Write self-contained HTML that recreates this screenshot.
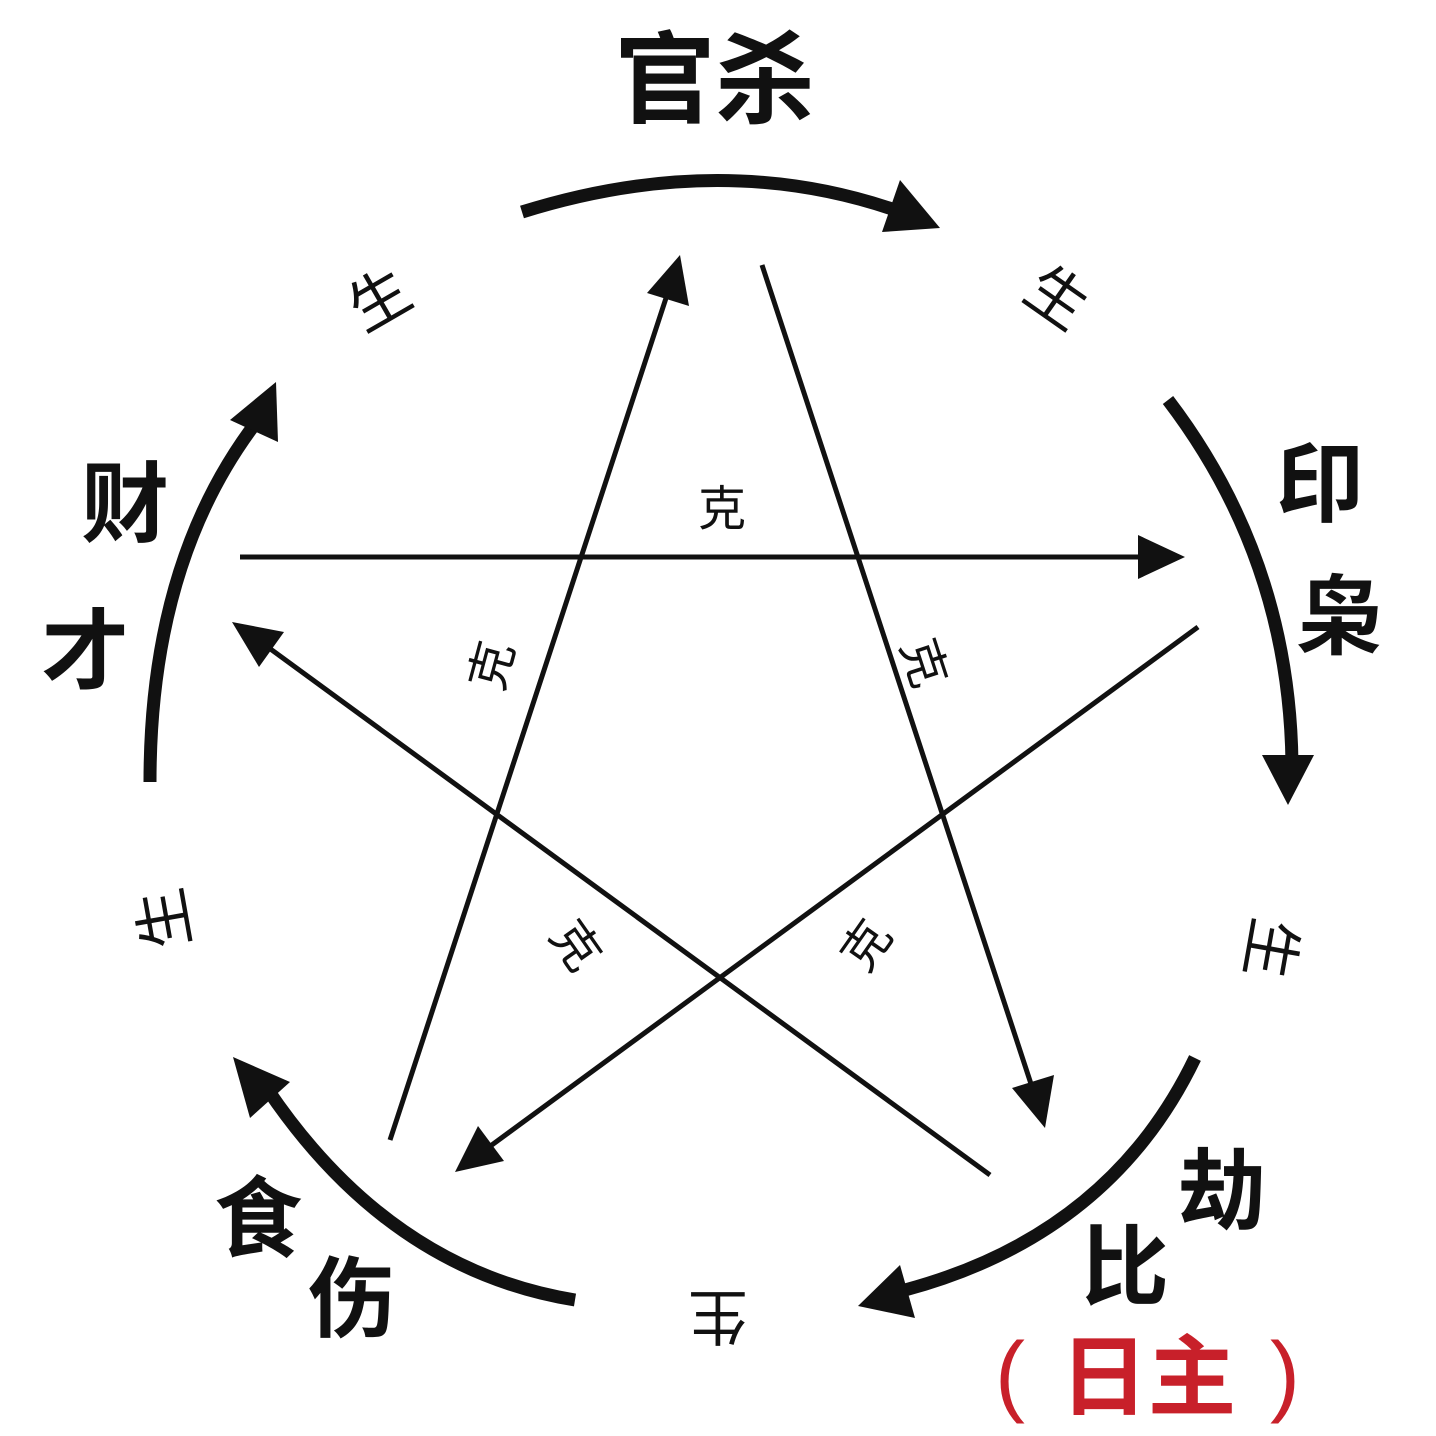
<!DOCTYPE html>
<html><head><meta charset="utf-8"><style>
html,body{margin:0;padding:0;background:#fff;}
svg{display:block;}
text{font-family:"Liberation Sans","Noto Sans CJK SC",sans-serif;}
</style></head><body>
<svg width="1436" height="1436" viewBox="0 0 1436 1436" xmlns="http://www.w3.org/2000/svg">
<g fill="none" stroke="#111" stroke-width="13" stroke-linecap="butt">
<path d="M522,212 Q720,150 895,210"/>
<path d="M1168,400 Q1290,560 1292,765"/>
<path d="M1195,1058 Q1110,1235 905,1290"/>
<path d="M575,1300 Q390,1270 268,1090"/>
<path d="M150,782 Q150,560 258,420"/>
</g>
<g fill="#111">
<polygon points="940,228 882,232 900,180"/>
<polygon points="1288,805 1262,755 1314,755"/>
<polygon points="858,1306 900,1265 915,1318"/>
<polygon points="233,1057 290,1082 250,1118"/>
<polygon points="276,382 278,442 230,420"/>
</g>
<g stroke="#111" stroke-width="5">
<line x1="240" y1="557" x2="1145" y2="557"/>
<line x1="1198" y1="627" x2="485" y2="1150"/>
<line x1="990" y1="1175" x2="265" y2="645"/>
<line x1="390" y1="1140" x2="668" y2="292"/>
<line x1="762" y1="265" x2="1033" y2="1090"/>
</g>
<g fill="#111">
<polygon points="1185,557 1138,535 1138,579"/>
<polygon points="455,1172 478,1126 504,1161"/>
<polygon points="232,622 284,632 259,667"/>
<polygon points="680,255 689,306 647,293"/>
<polygon points="1045,1128 1012,1088 1054,1075"/>
</g>
<g font-weight="bold" fill="#111" text-anchor="middle">
<text x="715" y="115" font-size="100">官杀</text>
<text x="1320" y="515" font-size="88">印</text>
<text x="1340" y="648" font-size="88">枭</text>
<text x="125" y="535" font-size="88">财</text>
<text x="85" y="682" font-size="88">才</text>
<text x="258" y="1250" font-size="88">食</text>
<text x="352" y="1330" font-size="88">伤</text>
<text x="1222" y="1222" font-size="88">劫</text>
<text x="1125" y="1298" font-size="88">比</text>
</g>
<text x="1010" y="1405" font-size="90" fill="#c8202a" text-anchor="middle">(</text>
<text x="1148" y="1408" font-size="88" fill="#c8202a" font-weight="bold" text-anchor="middle">日主</text>
<text x="1285" y="1405" font-size="90" fill="#c8202a" text-anchor="middle">)</text>
<g fill="#111" font-size="60" text-anchor="middle">
<text transform="translate(390,318) rotate(-30)">生</text>
<text transform="translate(1045,315) rotate(35)">生</text>
<text transform="translate(1250,945) rotate(100)">生</text>
<text transform="translate(718,1295) rotate(180)">生</text>
<text transform="translate(185,915) rotate(-100)">生</text>
</g>
<g fill="#111" font-size="48" text-anchor="middle">
<text x="722" y="525">克</text>
<text transform="translate(508,670) rotate(-75)">克</text>
<text transform="translate(908,668) rotate(72)">克</text>
<text transform="translate(562,955) rotate(55)">克</text>
<text transform="translate(880,955) rotate(-55)">克</text>
</g>
</svg>
</body></html>
